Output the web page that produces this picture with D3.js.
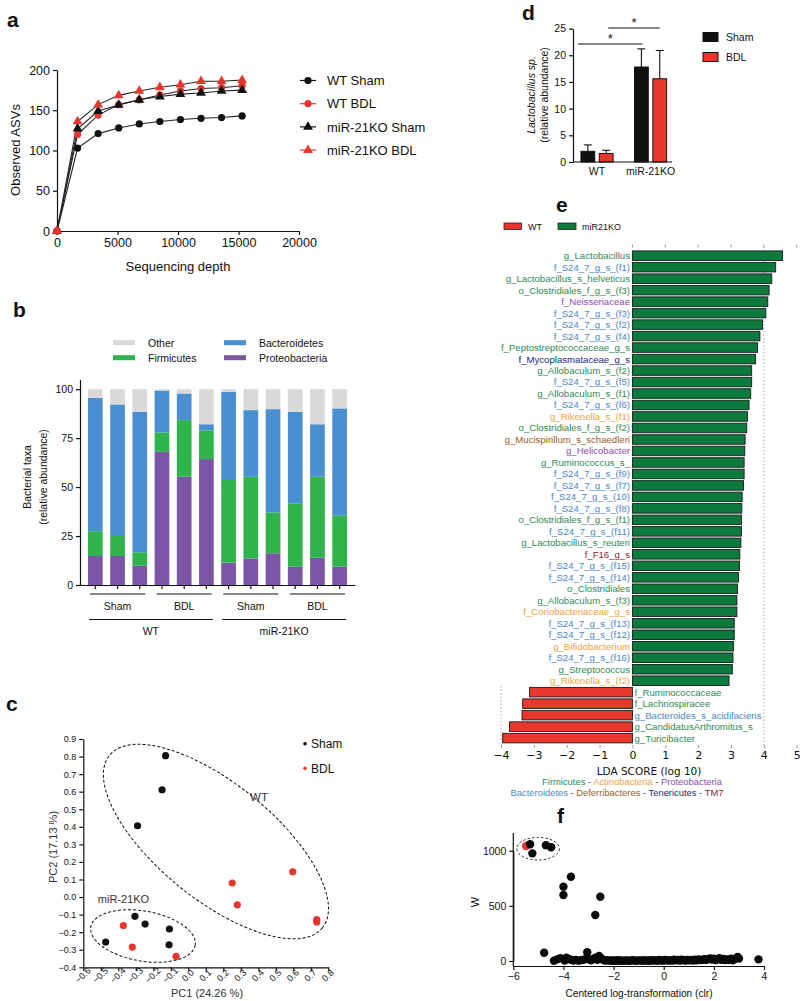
<!DOCTYPE html>
<html><head><meta charset="utf-8">
<script src="https://cdn.jsdelivr.net/npm/d3@7"></script>
<style>
body{margin:0;background:#fff;}
svg{font-family:Arial,"Liberation Sans",sans-serif;}
</style></head><body>
<svg id="chart" width="800" height="1001"></svg>
<script>
// ---------------- Panel a: rarefaction
const depthSteps = [0,1700,3400,5100,6800,8500,10200,11900,13600,15300];
const depthTicks = [0,5000,10000,15000,20000];
const asvTicks = [0,50,100,150,200];
const rarefNames = ["WT Sham","WT BDL","miR-21KO Sham","miR-21KO BDL"];
const wtShamASV = [0,103,121,128,133,136,138.5,140,141,143];
const wtBdlASV  = [0,120,144,157,163,169,174,177,178,180.5];
const koShamASV = [0,127,149,156.5,163,167,170,171.5,174,175];
const koBdlASV  = [0,136,157,168.5,174,178.5,181.7,186,186,187.5];

// ---------------- Panel b: phylum composition
const sampleIds = ["s1","s2","s3","s4","s5","s6","s7","s8","s9","s10","s11","s12"];
const proteobacteriaPct = [14.8,14.8,9.9,68.0,55.3,64.3,11.4,13.6,16.2,9.3,13.9,9.3];
const firmicutesPct     = [12.7,10.2,6.8,9.9,28.9,14.7,42.2,41.7,20.9,32.4,41.4,26.1];
const bacteroidetesPct  = [68.1,67.2,71.7,21.4,13.6,3.1,45.0,34.0,52.7,46.7,26.8,54.8];
const otherPct          = [4.4,7.8,11.6,0.7,2.2,17.9,1.4,10.7,10.2,11.6,17.9,9.8];
const taxaNames = ["Proteobacteria","Firmicutes","Bacteroidetes","Other"];
const taxaTicks = [0,25,50,75,100];
const conditionGroups = ["Sham","BDL","Sham","BDL"];
const genotypeGroups = ["WT","miR-21KO"];

// ---------------- Panel c: PCA
const pcaGroup = ["Sham","Sham","Sham","Sham","Sham","Sham","Sham","Sham","BDL","BDL","BDL","BDL","BDL","BDL","BDL","BDL"];
const pc1 = [-0.13,-0.15,-0.29,-0.305,-0.247,-0.108,-0.472,-0.11, 0.251,0.28,0.597,0.734,0.734,-0.371,-0.32,-0.07];
const pc2 = [0.805,0.611,0.406,-0.11,-0.154,-0.182,-0.256,-0.272, 0.08,-0.044,0.144,-0.129,-0.142,-0.162,-0.285,-0.338];
const pc1Ticks = [-0.6,-0.5,-0.4,-0.3,-0.2,-0.1,0,0.1,0.2,0.3,0.4,0.5,0.6,0.7,0.8];
const pc2Ticks = [-0.4,-0.3,-0.2,-0.1,0,0.1,0.2,0.3,0.4,0.5,0.6,0.7,0.8,0.9];

// ---------------- Panel d: Lactobacillus
const lactoGroups = ["WT","miR-21KO"];
const lactoConditions = ["Sham","BDL"];
const lactoShamMean = [2.0,17.8];
const lactoShamSD   = [1.2,3.4];
const lactoBdlMean  = [1.6,15.6];
const lactoBdlSD    = [0.6,5.3];
const lactoTicks = [0,5,10,15,20,25];

// ---------------- Panel e: LEfSe
const ldaTaxa = ["g_Lactobacillus","f_S24_7_g_s_(f1)","g_Lactobacillus_s_helveticus","o_Clostridiales_f_g_s_(f3)","f_Neisseriaceae","f_S24_7_g_s_(f3)","f_S24_7_g_s_(f2)","f_S24_7_g_s_(f4)","f_Peptostreptococcaceae_g_s","f_Mycoplasmataceae_g_s","g_Allobaculum_s_(f2)","f_S24_7_g_s_(f5)","g_Allobaculum_s_(f1)","f_S24_7_g_s_(f6)","g_Rikenella_s_(f1)","o_Clostridiales_f_g_s_(f2)","g_Mucispirillum_s_schaedleri","g_Helicobacter","g_Ruminococcus_s_","f_S24_7_g_s_(f9)","f_S24_7_g_s_(f7)","f_S24_7_g_s_(10)","f_S24_7_g_s_(f8)","o_Clostridiales_f_g_s_(f1)","f_S24_7_g_s_(f11)","g_Lactobacillus_s_reuteri","f_F16_g_s","f_S24_7_g_s_(f15)","f_S24_7_g_s_(f14)","o_Clostridiales","g_Allobaculum_s_(f3)","f_Coriobacteriaceae_g_s","f_S24_7_g_s_(f13)","f_S24_7_g_s_(f12)","g_Bifidobacterium","f_S24_7_g_s_(f16)","g_Streptococcus","g_Rikenella_s_(f2)","f_Ruminococcaceae","f_Lachnospiracee","g_Bacteroides_s_acidifaciens","g_CandidatusArthromitus_s","g_Turicibacter"];
const ldaScore = [4.57,4.36,4.24,4.16,4.12,4.06,3.96,3.88,3.81,3.75,3.63,3.63,3.60,3.55,3.50,3.48,3.43,3.42,3.40,3.40,3.38,3.34,3.33,3.32,3.32,3.30,3.27,3.26,3.23,3.20,3.18,3.18,3.10,3.10,3.08,3.06,3.04,2.94,-3.13,-3.34,-3.36,-3.74,-3.95];
const ldaPhylum = ["Firmicutes","Bacteroidetes","Firmicutes","Firmicutes","Proteobacteria","Bacteroidetes","Bacteroidetes","Bacteroidetes","Firmicutes","Tenericutes","Firmicutes","Bacteroidetes","Firmicutes","Bacteroidetes","Actinobacteria","Firmicutes","Deferribacteres","Proteobacteria","Firmicutes","Bacteroidetes","Bacteroidetes","Bacteroidetes","Bacteroidetes","Firmicutes","Bacteroidetes","Firmicutes","TM7","Bacteroidetes","Bacteroidetes","Firmicutes","Firmicutes","Actinobacteria","Bacteroidetes","Bacteroidetes","Actinobacteria","Bacteroidetes","Firmicutes","Actinobacteria","Firmicutes","Firmicutes","Bacteroidetes","Firmicutes","Firmicutes"];
const ldaTicks = [-4,-3,-2,-1,0,1,2,3,4,5];
const ldaLegendRow1 = ["Firmicutes","Actinobacteria","Proteobacteria"];
const ldaLegendRow2 = ["Bacteroidetes","Deferribacteres","Tenericutes","TM7"];

// ---------------- Panel f: ANCOM volcano
const clrValue = [-5.49,-5.33,-5.24,-4.70,-4.49,-4.00,-4.00,-3.70,-2.73,-2.53,
 -4.77,-4.38,-4.25,-4.12,-3.95,-3.88,-3.80,-3.70,-3.60,-3.50,-3.40,-3.30,-3.20,-3.10,-3.05,-2.98,-2.90,-2.80,-2.72,-2.65,-2.58,-2.50,-2.42,-2.35,-2.28,-2.20,-2.12,-2.05,-1.98,-1.90,-1.82,-1.75,-1.68,-1.60,-1.52,-1.45,-1.38,-1.30,-1.22,-1.15,-1.08,-1.00,-0.92,-0.85,-0.78,-0.70,-0.62,-0.55,-0.48,-0.40,-0.32,-0.25,-0.18,-0.10,-0.02,0.05,0.12,0.20,0.28,0.35,0.42,0.50,0.58,0.65,0.72,0.80,0.88,0.95,1.02,1.10,1.18,1.25,1.32,1.40,1.48,1.55,1.62,1.70,1.78,1.85,1.92,2.00,2.08,2.15,2.22,2.30,2.38,2.45,2.52,2.60,2.68,2.75,2.82,2.90,2.95,3.00,3.78];
const wValue = [1043,1058,976,1049,1031,674,598,764,417,583,
 75,2,15,25,5,30,18,12,5,10,3,8,12,20,80,15,6,20,30,10,45,25,12,5,8,3,6,2,5,3,7,2,4,1,6,3,2,5,8,3,2,6,4,1,7,3,5,2,8,4,6,2,9,5,3,10,6,4,8,3,11,6,9,4,12,7,5,10,6,9,4,12,7,14,8,11,16,10,18,24,14,20,8,15,26,12,18,8,14,10,20,6,16,28,36,22,15];
const redPointIndex = [0];
const clrTicks = [-6,-4,-2,0,2,4];
const wTicks = [0,500,1000];

// ================= drawing =================
const svg = d3.select("#chart");
const RED = "#e8362d";
const FONT = "Arial, 'Liberation Sans', sans-serif";
function styleAxis(sel, size){
  sel.attr("font-family", FONT).attr("font-size", size);
  sel.selectAll("path,line").attr("stroke","#111").attr("stroke-width",1.2);
  sel.selectAll("text").attr("fill","#111");
}
function panelLabel(t,x,y){
  svg.append("text").attr("x",x).attr("y",y).attr("font-size",21).attr("font-weight","bold").attr("fill","#111").text(t);
}

// ---------- Panel a
(function(){
  panelLabel("a",7,27);
  const x = d3.scaleLinear().domain([0,20000]).range([57,299]);
  const y = d3.scaleLinear().domain([0,200]).range([231,70]);
  const g = svg.append("g");
  g.append("g").attr("transform","translate(0,231)")
    .call(d3.axisBottom(x).tickValues(depthTicks).tickSize(4).tickSizeOuter(0).tickFormat(d3.format("d")))
    .call(s=>styleAxis(s,12.5));
  g.append("g").attr("transform","translate(57,0)")
    .call(d3.axisLeft(y).tickValues(asvTicks).tickSize(4).tickSizeOuter(0))
    .call(s=>styleAxis(s,12.5));
  const series = [
    {name:rarefNames[0], vals:wtShamASV, color:"#111", shape:"circle"},
    {name:rarefNames[1], vals:wtBdlASV, color:RED, shape:"circle"},
    {name:rarefNames[2], vals:koShamASV, color:"#111", shape:"triangle"},
    {name:rarefNames[3], vals:koBdlASV, color:RED, shape:"triangle"}
  ];
  const line = d3.line().x((d,i)=>x(depthSteps[i])).y(d=>y(d));
  series.forEach(s=>{
    g.append("path").attr("d",line(s.vals)).attr("fill","none").attr("stroke","#222").attr("stroke-width",1.1);
  });
  const tri = d3.symbol().type(d3.symbolTriangle).size(42);
  function marker(sel, s){
    if(s.shape==="circle") sel.append("circle").attr("r",3.6).attr("fill",s.color);
    else sel.append("path").attr("d",tri()).attr("fill",s.color);
  }
  series.forEach(s=>{
    s.vals.forEach((v,i)=>{
      const m = g.append("g").attr("transform",`translate(${x(depthSteps[i])},${y(v)})`);
      marker(m,s);
    });
  });
  series.forEach((s,i)=>{
    const yy = 80.5 + i*23.2;
    g.append("line").attr("x1",300).attr("x2",316).attr("y1",yy).attr("y2",yy).attr("stroke",s.color).attr("stroke-width",1.2);
    const m = g.append("g").attr("transform",`translate(308,${yy})`);
    marker(m,s);
    g.append("text").attr("x",327).attr("y",yy+4.6).attr("font-size",13).attr("fill","#111").text(s.name);
  });
  g.append("text").attr("transform","translate(20,150) rotate(-90)").attr("text-anchor","middle").attr("font-size",13).attr("fill","#111").text("Observed ASVs");
  g.append("text").attr("x",178).attr("y",271).attr("text-anchor","middle").attr("font-size",13).attr("fill","#111").text("Sequencing depth");
})();

// ---------- Panel b
(function(){
  panelLabel("b",13,317);
  const x = d3.scaleBand().domain(sampleIds).range([80,355]).paddingInner(0.338).paddingOuter(0.36);
  const y = d3.scaleLinear().domain([0,105]).range([585,379.4]);
  const colors = {Proteobacteria:"#7b56a6",Firmicutes:"#2fb34b",Bacteroidetes:"#4a8fd2",Other:"#d9d9d9"};
  const rows = sampleIds.map((id,i)=>({id, Proteobacteria:proteobacteriaPct[i], Firmicutes:firmicutesPct[i], Bacteroidetes:bacteroidetesPct[i], Other:otherPct[i]}));
  const stack = d3.stack().keys(taxaNames)(rows);
  const g = svg.append("g");
  stack.forEach(layer=>{
    g.selectAll(null).data(layer).enter().append("rect")
      .attr("x",d=>x(d.data.id)).attr("width",x.bandwidth())
      .attr("y",d=>y(d[1])).attr("height",d=>y(d[0])-y(d[1]))
      .attr("fill",colors[layer.key]);
  });
  g.append("g").attr("transform","translate(80,0)")
    .call(d3.axisLeft(y).tickValues(taxaTicks).tickSize(4).tickSizeOuter(0))
    .call(s=>styleAxis(s,10.5));
  g.append("g").attr("transform","translate(0,585)")
    .call(d3.axisBottom(x).tickSize(4).tickSizeOuter(0).tickFormat(""))
    .call(s=>styleAxis(s,10.5));
  conditionGroups.forEach((c,gi)=>{
    const x0 = x(sampleIds[gi*3])+2, x1 = x(sampleIds[gi*3+2])+x.bandwidth()-2;
    g.append("line").attr("x1",x0).attr("x2",x1).attr("y1",594).attr("y2",594).attr("stroke","#111").attr("stroke-width",1.2);
    g.append("text").attr("x",(x0+x1)/2).attr("y",609.5).attr("text-anchor","middle").attr("font-size",10.5).attr("fill","#111").text(c);
  });
  genotypeGroups.forEach((c,gi)=>{
    const x0 = x(sampleIds[gi*6])+1, x1 = x(sampleIds[gi*6+5])+x.bandwidth()-1;
    g.append("line").attr("x1",x0).attr("x2",x1).attr("y1",619.5).attr("y2",619.5).attr("stroke","#111").attr("stroke-width",1.2);
    g.append("text").attr("x",(x0+x1)/2).attr("y",635).attr("text-anchor","middle").attr("font-size",10.5).attr("fill","#111").text(c);
  });
  const leg = [["Other",113,342.7],["Firmicutes",113,357.7],["Bacteroidetes",224,342.7],["Proteobacteria",224,357.7]];
  leg.forEach(([n,lx,ly])=>{
    g.append("rect").attr("x",lx).attr("y",ly-2.5).attr("width",22).attr("height",5).attr("fill",colors[n]);
    g.append("text").attr("x",lx+35).attr("y",ly+3.8).attr("font-size",10.5).attr("fill","#111").text(n);
  });
  g.append("text").attr("transform","translate(31,477) rotate(-90)").attr("text-anchor","middle").attr("font-size",10.5).attr("fill","#111").text("Bacterial taxa");
  g.append("text").attr("transform","translate(47,477) rotate(-90)").attr("text-anchor","middle").attr("font-size",10.5).attr("fill","#111").text("(relative abundance)");
})();

// ---------- Panel c
(function(){
  panelLabel("c",6,711);
  const x = d3.scaleLinear().domain([-0.6,0.8]).range([83.3,328.3]);
  const y = d3.scaleLinear().domain([-0.4,0.9]).range([967.3,739]);
  const g = svg.append("g");
  const xa = g.append("g").attr("transform","translate(0,967.3)")
    .call(d3.axisBottom(x).tickValues(pc1Ticks).tickSize(4).tickSizeOuter(0).tickFormat(d3.format(".1f")))
    .call(s=>styleAxis(s,9));
  xa.selectAll("text").attr("text-anchor","middle").attr("dy","0.35em").attr("y",0)
    .attr("transform","translate(-1,8) rotate(-45)");
  g.append("g").attr("transform","translate(83.3,0)")
    .call(d3.axisLeft(y).tickValues(pc2Ticks).tickSize(4).tickSizeOuter(0).tickFormat(d3.format(".1f")))
    .call(s=>styleAxis(s,9));
  const ellipses = [
    {cx:0.158, cy:0.316, rx:137, ry:58, angle:39},
    {cx:-0.259, cy:-0.222, rx:53, ry:25, angle:10}
  ];
  ellipses.forEach(e=>{
    g.append("ellipse").attr("cx",0).attr("cy",0).attr("rx",e.rx).attr("ry",e.ry)
      .attr("transform",`translate(${x(e.cx)},${y(e.cy)}) rotate(${e.angle})`)
      .attr("fill","none").attr("stroke","#111").attr("stroke-width",1).attr("stroke-dasharray","3,2");
  });
  pc1.forEach((v,i)=>{
    g.append("circle").attr("cx",x(v)).attr("cy",y(pc2[i])).attr("r",3.6)
      .attr("fill",pcaGroup[i]==="Sham"?"#111":RED);
  });
  g.append("text").attr("x",259).attr("y",801).attr("text-anchor","middle").attr("font-size",11.5).attr("fill","#333").text("WT");
  g.append("text").attr("x",123.5).attr("y",902.5).attr("text-anchor","middle").attr("font-size",11).attr("fill","#333").text("miR-21KO");
  [["Sham","#111",743.7],["BDL",RED,768.3]].forEach(([n,c,ly])=>{
    g.append("circle").attr("cx",305).attr("cy",ly).attr("r",1.8).attr("fill",c);
    g.append("text").attr("x",311).attr("y",ly+4.3).attr("font-size",12).attr("fill","#111").text(n);
  });
  g.append("text").attr("transform","translate(57,847) rotate(-90)").attr("text-anchor","middle").attr("font-size",11).attr("fill","#333").text("PC2 (17.13 %)");
  g.append("text").attr("x",207).attr("y",997).attr("text-anchor","middle").attr("font-size",11).attr("fill","#333").text("PC1 (24.26 %)");
})();

// ---------- Panel d
(function(){
  panelLabel("d",522,20);
  const y = d3.scaleLinear().domain([0,25]).range([162,28.6]);
  const x = d3.scaleBand().domain(lactoGroups).range([575.6,672]).paddingInner(0.4).paddingOuter(0.1);
  const xs = d3.scaleBand().domain(lactoConditions).range([0,x.bandwidth()]).paddingInner(0.25);
  const g = svg.append("g");
  const means = {Sham:lactoShamMean, BDL:lactoBdlMean};
  const sds = {Sham:lactoShamSD, BDL:lactoBdlSD};
  const fills = {Sham:"#111", BDL:RED};
  lactoGroups.forEach((grp,gi)=>{
    lactoConditions.forEach(c=>{
      const bx = x(grp)+xs(c), bw = xs.bandwidth();
      const m = means[c][gi], sd = sds[c][gi];
      const cx = bx+bw/2;
      g.append("line").attr("x1",cx).attr("x2",cx).attr("y1",y(m)).attr("y2",y(m+sd)).attr("stroke","#111").attr("stroke-width",1.1);
      g.append("line").attr("x1",cx-4).attr("x2",cx+4).attr("y1",y(m+sd)).attr("y2",y(m+sd)).attr("stroke","#111").attr("stroke-width",1.1);
      g.append("rect").attr("x",bx).attr("y",y(m)).attr("width",bw).attr("height",y(0)-y(m))
        .attr("fill",fills[c]).attr("stroke","#111").attr("stroke-width",1);
    });
  });
  g.append("g").attr("transform","translate(573,0)")
    .call(d3.axisLeft(y).tickValues(lactoTicks).tickSize(4).tickSizeOuter(0))
    .call(s=>styleAxis(s,10.5));
  g.append("line").attr("x1",573).attr("x2",672).attr("y1",162).attr("y2",162).attr("stroke","#111").attr("stroke-width",1.2);
  lactoGroups.forEach(grp=>{
    g.append("text").attr("x",x(grp)+x.bandwidth()/2).attr("y",175).attr("text-anchor","middle").attr("font-size",10.5).attr("fill","#111").text(grp);
  });
  const sig = [[x("WT")+xs("Sham")-3, x("miR-21KO")+xs("Sham")+xs.bandwidth()/2+1, 22.1],
               [x("WT")+xs("BDL")+xs.bandwidth()/2+2, x("miR-21KO")+xs("BDL")+xs.bandwidth()/2, 25.1]];
  sig.forEach(([x0,x1,v])=>{
    g.append("line").attr("x1",x0).attr("x2",x1).attr("y1",y(v)).attr("y2",y(v)).attr("stroke","#111").attr("stroke-width",1.1);
    g.append("text").attr("x",(x0+x1)/2).attr("y",y(v)-1).attr("text-anchor","middle").attr("font-size",13).attr("fill","#111").text("*");
  });
  [["Sham",37],["BDL",57]].forEach(([n,ly])=>{
    g.append("rect").attr("x",703).attr("y",ly-4.5).attr("width",15).attr("height",9).attr("fill",fills[n]).attr("stroke","#111");
    g.append("text").attr("x",726).attr("y",ly+4).attr("font-size",10.5).attr("fill","#111").text(n);
  });
  g.append("text").attr("transform","translate(535,95) rotate(-90)").attr("text-anchor","middle").attr("font-size",10.5).attr("font-style","italic").attr("fill","#111").text("Lactobacillus sp.");
  g.append("text").attr("transform","translate(547.5,95) rotate(-90)").attr("text-anchor","middle").attr("font-size",10.5).attr("fill","#111").text("(relative abundance)");
})();

// ---------- Panel e
(function(){
  panelLabel("e",556,212);
  const phylumColor = {Firmicutes:"#2f8a55",Bacteroidetes:"#4a88c8",Actinobacteria:"#f0a23f",Proteobacteria:"#8e4db0",Deferribacteres:"#9a5b26",Tenericutes:"#23297a",TM7:"#8c1c34"};
  const x = d3.scaleLinear().domain([-4,5]).range([501,796.7]);
  const y = d3.scaleBand().domain(ldaTaxa).range([250,743.8]).paddingInner(0.17).paddingOuter(0.08);
  const g = svg.append("g");
  g.append("line").attr("x1",x(4)).attr("x2",x(4)).attr("y1",247).attr("y2",745).attr("stroke","#aaa").attr("stroke-dasharray","1.5,2");
  g.append("line").attr("x1",x(-4)).attr("x2",x(-4)).attr("y1",686).attr("y2",745).attr("stroke","#aaa").attr("stroke-dasharray","1.5,2");
  ldaTicks.filter(t=>t>=0).forEach(t=>{
    g.append("line").attr("x1",x(t)).attr("x2",x(t)).attr("y1",244.5).attr("y2",247.5).attr("stroke","#999");
  });
  ldaTaxa.forEach((t,i)=>{
    const v = ldaScore[i];
    g.append("rect").attr("x",x(Math.min(0,v))).attr("width",Math.abs(x(v)-x(0)))
      .attr("y",y(t)).attr("height",y.bandwidth())
      .attr("fill",v>0?"#0b7a3c":"#e8372b").attr("stroke","#1a1a1a").attr("stroke-width",0.9);
    g.append("text").attr("x",v>0?630:634.5).attr("y",y(t)+y.bandwidth()/2).attr("dy","0.36em")
      .attr("text-anchor",v>0?"end":"start").attr("font-size",9.6).attr("fill",phylumColor[ldaPhylum[i]]).text(t);
  });
  const xa = g.append("g").attr("transform","translate(0,745)")
    .call(d3.axisBottom(x).tickValues(ldaTicks).tickSize(3).tickSizeOuter(0).tickFormat(d=>d<0?"\u2212"+Math.abs(d):d))
    .call(s=>styleAxis(s,11));
  xa.select(".domain").remove();
  xa.selectAll("line").attr("stroke","#999").attr("stroke-width",1);
  xa.selectAll("text").attr("font-family","'DejaVu Sans', sans-serif").attr("font-size",11);
  g.append("text").attr("x",649).attr("y",775).attr("text-anchor","middle").attr("font-family","'DejaVu Sans', sans-serif").attr("font-size",10.5).attr("fill","#111").text("LDA SCORE (log 10)");
  function legendRow(names, yy, cx){
    const t = g.append("text").attr("x",cx).attr("y",yy).attr("text-anchor","middle").attr("font-size",9.4);
    names.forEach((n,i)=>{
      if(i>0) t.append("tspan").attr("fill","#444").text(" - ");
      t.append("tspan").attr("fill",phylumColor[n]).text(n);
    });
  }
  legendRow(ldaLegendRow1,785,632);
  legendRow(ldaLegendRow2,796,617);
  g.append("rect").attr("x",504).attr("y",223).attr("width",17.5).attr("height",6.5).attr("fill","#e8372b").attr("stroke","#222").attr("stroke-width",0.8);
  g.append("text").attr("x",528).attr("y",229.5).attr("font-size",9).attr("fill","#111").text("WT");
  g.append("rect").attr("x",558).attr("y",223).attr("width",18).attr("height",6.5).attr("fill","#0b7a3c").attr("stroke","#222").attr("stroke-width",0.8);
  g.append("text").attr("x",582).attr("y",229.5).attr("font-size",9).attr("fill","#111").text("miR21KO");
})();

// ---------- Panel f
(function(){
  panelLabel("f",557,823);
  const x = d3.scaleLinear().domain([-6,4]).range([513.3,764]);
  const y = d3.scaleLinear().domain([0,1000]).range([961,850.7]);
  const g = svg.append("g");
  g.append("ellipse").attr("cx",x(-5.01)).attr("cy",y(1018)).attr("rx",21.3).attr("ry",11.3)
    .attr("fill","none").attr("stroke","#333").attr("stroke-width",1).attr("stroke-dasharray","2.5,2");
  const order = clrValue.map((d,i)=>i).sort((a,b)=>(redPointIndex.includes(b)?1:0)-(redPointIndex.includes(a)?1:0));
  order.forEach(i=>{
    g.append("circle").attr("cx",x(clrValue[i])).attr("cy",y(wValue[i])).attr("r",4.2)
      .attr("fill",redPointIndex.includes(i)?RED:"#0a0a0a");
  });
  g.append("g").attr("transform","translate(0,966)")
    .call(d3.axisBottom(x).tickValues(clrTicks).tickSize(4).tickSizeOuter(0))
    .call(s=>styleAxis(s,10.5));
  g.append("g").attr("transform","translate(513.3,0)")
    .call(d3.axisLeft(y).tickValues(wTicks).tickSize(4).tickSizeOuter(0).tickFormat(d3.format("d")))
    .call(s=>styleAxis(s,10.5));
  g.append("line").attr("x1",513.3).attr("x2",513.3).attr("y1",833).attr("y2",966).attr("stroke","#111").attr("stroke-width",1.2);
  g.append("text").attr("transform","translate(479,902) rotate(-90)").attr("text-anchor","middle").attr("font-size",11).attr("fill","#111").text("W");
  g.append("text").attr("x",639).attr("y",997).attr("text-anchor","middle").attr("font-size",10.2).attr("fill","#111").text("Centered log-transformation (clr)");
})();
</script></body></html>
